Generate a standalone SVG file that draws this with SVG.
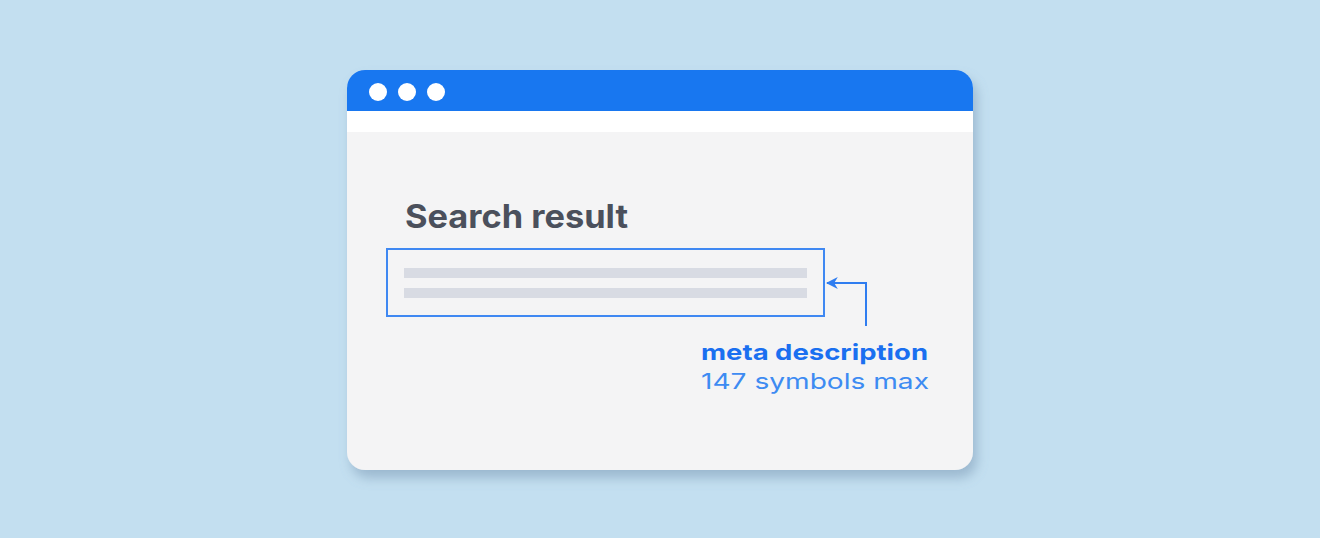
<svg xmlns="http://www.w3.org/2000/svg" width="1320" height="538" viewBox="0 0 1320 538">
<style>
.title{font-family:Inter,"Liberation Sans",sans-serif;font-weight:700;font-size:32px;fill:#4b505c}
.lbl{font-family:Inter,"Liberation Sans",sans-serif;font-size:22px}
.dot{fill:#ffffff}
.bar{fill:#d8dbe3}
.conn{fill:none;stroke:#2f7df0;stroke-width:2}
</style>
<defs>
<filter id="sh" x="-10%" y="-10%" width="120%" height="130%">
<feDropShadow dx="4" dy="8" stdDeviation="6" flood-color="#6b8aa8" flood-opacity="0.45"/>
</filter>
<clipPath id="win"><rect x="347" y="70" width="626" height="400" rx="18"/></clipPath>
<marker id="ah" viewBox="0 0 10 10" refX="9" refY="5" markerWidth="12" markerHeight="12" markerUnits="userSpaceOnUse" orient="auto">
<path d="M0,0 L10,5 L0,10 L3,5 Z" fill="#2f7df0"/>
</marker>
</defs>
<rect width="1320" height="538" fill="#c3dff0"/>
<g id="window">
<rect x="347" y="70" width="626" height="400" rx="18" fill="#f4f4f5" filter="url(#sh)"/>
<g clip-path="url(#win)">
<rect x="347" y="70" width="626" height="41" fill="#1877f0"/>
<rect x="347" y="111" width="626" height="21" fill="#ffffff"/>
</g>
<circle class="dot" cx="378" cy="92" r="9"/>
<circle class="dot" cx="407" cy="92" r="9"/>
<circle class="dot" cx="436" cy="92" r="9"/>
</g>
<g id="title">
<text class="title" x="405" y="228" textLength="223" lengthAdjust="spacingAndGlyphs">Search result</text>
</g>
<g id="result">
<rect x="387" y="249" width="437" height="67" fill="none" stroke="#3f88f2" stroke-width="2"/>
<rect class="bar" x="404" y="268" width="403" height="10"/>
<rect class="bar" x="404" y="288" width="403" height="10"/>
</g>
<g id="connectors">
<path class="conn" d="M866,326 V283 H827" marker-end="url(#ah)"/>
</g>
<g id="label">
<text class="lbl" x="701" y="360" font-weight="700" fill="#1a6ff0" textLength="227" lengthAdjust="spacingAndGlyphs">meta description</text>
<text class="lbl" x="701" y="389" fill="#3d8bf2" textLength="228" lengthAdjust="spacingAndGlyphs">147 symbols max</text>
</g>
</svg>
